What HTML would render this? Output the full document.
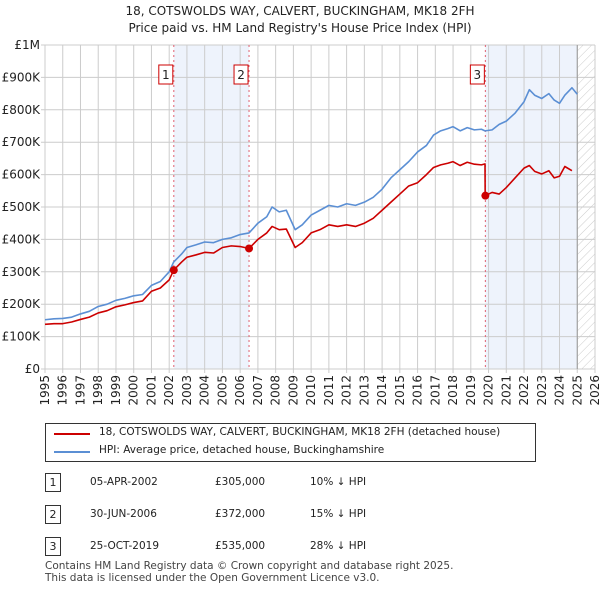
<!DOCTYPE html>
<html><head><meta charset="utf-8"><style>
body{margin:0;background:#fff;font-family:"DejaVu Sans","Liberation Sans",sans-serif;}
#wrap{position:relative;width:600px;height:590px;}
.t{position:absolute;font-size:11px;color:#222;white-space:nowrap;}
svg text{font-family:"DejaVu Sans","Liberation Sans",sans-serif;}
</style></head><body><div id="wrap">
<div class="t" style="left:0;width:600px;top:3px;text-align:center;font-size:12px;line-height:17px">18, COTSWOLDS WAY, CALVERT, BUCKINGHAM, MK18 2FH<br>Price paid vs. HM Land Registry's House Price Index (HPI)</div>
<svg id="c" width="600" height="420" style="position:absolute;left:0;top:0"></svg>
<div style="position:absolute;left:45px;top:423px;width:489px;height:37px;border:1px solid #333;">
<div style="position:absolute;left:8px;top:9px;width:36px;border-top:2px solid #cc0000"></div>
<div class="t" style="left:53px;top:2px;font-size:10.5px">18, COTSWOLDS WAY, CALVERT, BUCKINGHAM, MK18 2FH (detached house)</div>
<div style="position:absolute;left:8px;top:27px;width:36px;border-top:2px solid #5b8fd4"></div>
<div class="t" style="left:53px;top:20px;font-size:10.5px">HPI: Average price, detached house, Buckinghamshire</div>
</div>
<div id="tbl"></div>
<div class="t" style="left:45px;top:560px;font-size:10.5px;line-height:12px;color:#444">Contains HM Land Registry data © Crown copyright and database right 2025.<br>This data is licensed under the Open Government Licence v3.0.</div>
</div>
<script>
const hpiYears=[1995,1995.5,1996,1996.5,1997,1997.5,1998,1998.5,1999,1999.5,2000,2000.5,2001,2001.5,2002,2002.25,2002.7,2003,2003.5,2004,2004.5,2005,2005.5,2006,2006.5,2007,2007.5,2007.8,2008.2,2008.6,2009.1,2009.5,2010,2010.5,2011,2011.5,2012,2012.5,2013,2013.5,2014,2014.5,2015,2015.5,2016,2016.5,2016.9,2017.3,2017.7,2018,2018.4,2018.8,2019.2,2019.6,2019.8,2020.2,2020.6,2021,2021.5,2022,2022.3,2022.6,2023,2023.4,2023.7,2024,2024.3,2024.7,2025];
const hpiValues=[152000,155000,156000,160000,170000,178000,193000,200000,212000,218000,226000,230000,258000,270000,300000,330000,355000,375000,383000,392000,390000,400000,405000,415000,420000,450000,470000,500000,485000,490000,430000,445000,475000,490000,505000,500000,510000,505000,515000,530000,555000,590000,615000,640000,670000,690000,722000,735000,742000,748000,735000,745000,738000,740000,735000,738000,755000,765000,790000,825000,862000,845000,835000,850000,830000,820000,845000,868000,848000];
const ppYears=[1995,1995.5,1996,1996.5,1997,1997.5,1998,1998.5,1999,1999.5,2000,2000.5,2001,2001.5,2002,2002.25,2002.7,2003,2003.5,2004,2004.5,2005,2005.5,2006,2006.5,2007,2007.5,2007.8,2008.2,2008.6,2009.1,2009.5,2010,2010.5,2011,2011.5,2012,2012.5,2013,2013.5,2014,2014.5,2015,2015.5,2016,2016.5,2016.9,2017.3,2017.7,2018,2018.4,2018.8,2019.2,2019.6,2019.8,2019.81,2020.2,2020.6,2021,2021.5,2022,2022.3,2022.6,2023,2023.4,2023.7,2024,2024.3,2024.7,2025];
const ppValues=[138000,140000,140000,145000,153000,160000,173000,180000,192000,198000,205000,210000,240000,250000,275000,305000,330000,345000,352000,360000,358000,375000,380000,378000,372000,400000,420000,440000,430000,432000,375000,390000,420000,430000,445000,440000,445000,440000,450000,465000,490000,515000,540000,565000,575000,600000,622000,630000,635000,640000,628000,638000,632000,630000,633000,535000,545000,540000,560000,590000,620000,628000,610000,602000,612000,590000,595000,625000,612000];
const saleLabels=["1","2","3"];
const saleYears=[2002.26,2006.5,2019.82];
const saleDates=["05-APR-2002","30-JUN-2006","25-OCT-2019"];
const salePrices=[305000,372000,535000];
const saleDiff=["10% ↓ HPI","15% ↓ HPI","28% ↓ HPI"];
const yTicks=[0,100000,200000,300000,400000,500000,600000,700000,800000,900000,1000000];
const yTickLabels=["£0","£100K","£200K","£300K","£400K","£500K","£600K","£700K","£800K","£900K","£1M"];
const xTicks=[1995,1996,1997,1998,1999,2000,2001,2002,2003,2004,2005,2006,2007,2008,2009,2010,2011,2012,2013,2014,2015,2016,2017,2018,2019,2020,2021,2022,2023,2024,2025,2026];

const X0=45,X1=595,Y0=369,Y1=45;
const xs=y=>X0+(y-1995)/(2026-1995)*(X1-X0);
const ys=v=>Y0-v/1000000*(Y0-Y1);
const svg=document.getElementById('c');const NS='http://www.w3.org/2000/svg';
function mk(t,a,p){const e=document.createElementNS(NS,t);for(const k in a)e.setAttribute(k,a[k]);(p||svg).appendChild(e);return e;}
const defs=mk('defs',{});
const pat=mk('pattern',{id:'h',width:6,height:6,patternUnits:'userSpaceOnUse',patternTransform:'rotate(45)'},defs);
mk('line',{x1:0,y1:0,x2:0,y2:6,stroke:'#ccc','stroke-width':1},pat);
let r=mk('rect',{x:xs(saleYears[0]),y:Y1,width:xs(saleYears[1])-xs(saleYears[0]),height:Y0-Y1,fill:'#eef3fc'});

r=mk('rect',{x:xs(saleYears[2]),y:Y1,width:xs(2025)-xs(saleYears[2]),height:Y0-Y1,fill:'#eef3fc'});

r=mk('rect',{x:xs(2025),y:Y1,width:X1-xs(2025),height:Y0-Y1,fill:'url(#h)'});

xTicks.forEach(t=>{const l=mk('line',{x1:xs(t),x2:xs(t),y1:Y1,y2:Y0+4,stroke:'#ccc'});

const tx=mk('text',{x:0,y:0,'text-anchor':'end','font-size':12,fill:'#222',transform:`translate(${xs(t)+4},${Y0+6}) rotate(-90)`});tx.textContent=t;
});
yTicks.forEach((t,i)=>{const l=mk('line',{x1:X0-4,x2:X1,y1:ys(t),y2:ys(t),stroke:'#ccc'});

const tx=mk('text',{x:X0-5,y:ys(t)+4,'text-anchor':'end','font-size':12,fill:'#222'});tx.textContent=yTickLabels[i];
});
l=mk('line',{x1:xs(2025),x2:xs(2025),y1:Y1,y2:Y0,stroke:'#999'});

saleYears.forEach((y,i)=>{const d=mk('line',{x1:xs(y),x2:xs(y),y1:Y1,y2:Y0,stroke:'#e06070','stroke-dasharray':'2,3'});

const b=mk('rect',{x:xs(y)-15,y:65,width:14,height:19,fill:'#fff',stroke:'#c00'});

const tx=mk('text',{x:xs(y)-8,y:79,'text-anchor':'middle','font-size':12,fill:'#222'});tx.textContent=saleLabels[i];
});
const line=(xa,va,col,name)=>{const p=mk('polyline',{points:xa.map((y,i)=>xs(y)+','+ys(va[i])).join(' '),fill:'none',stroke:col,'stroke-width':1.6,'stroke-linejoin':'round'});
};
line(hpiYears,hpiValues,'#5b8fd4','hpi-line');
line(ppYears,ppValues,'#cc0000','price-paid-line');
saleYears.forEach((y,i)=>{const c=mk('circle',{cx:xs(y),cy:ys(salePrices[i]),r:4,fill:'#cc0000'});
});
const tb=document.getElementById('tbl');
saleLabels.forEach((s,i)=>{const top=473+i*32;
const row=document.createElement('div');
row.innerHTML=`<div style="position:absolute;left:45px;top:${top}px;width:14px;height:17px;border:1px solid #333;font-size:11px;text-align:center;line-height:17px" class="t">${s}</div>
<div class="t" style="left:90px;top:${top+3}px;font-size:10.5px">${saleDates[i]}</div>
<div class="t" style="left:215px;top:${top+3}px;font-size:10.5px">£${salePrices[i].toLocaleString('en-GB')}</div>
<div class="t" style="left:310px;top:${top+3}px;font-size:10.5px">${saleDiff[i]}</div>`;
tb.appendChild(row);});
</script></body></html>
